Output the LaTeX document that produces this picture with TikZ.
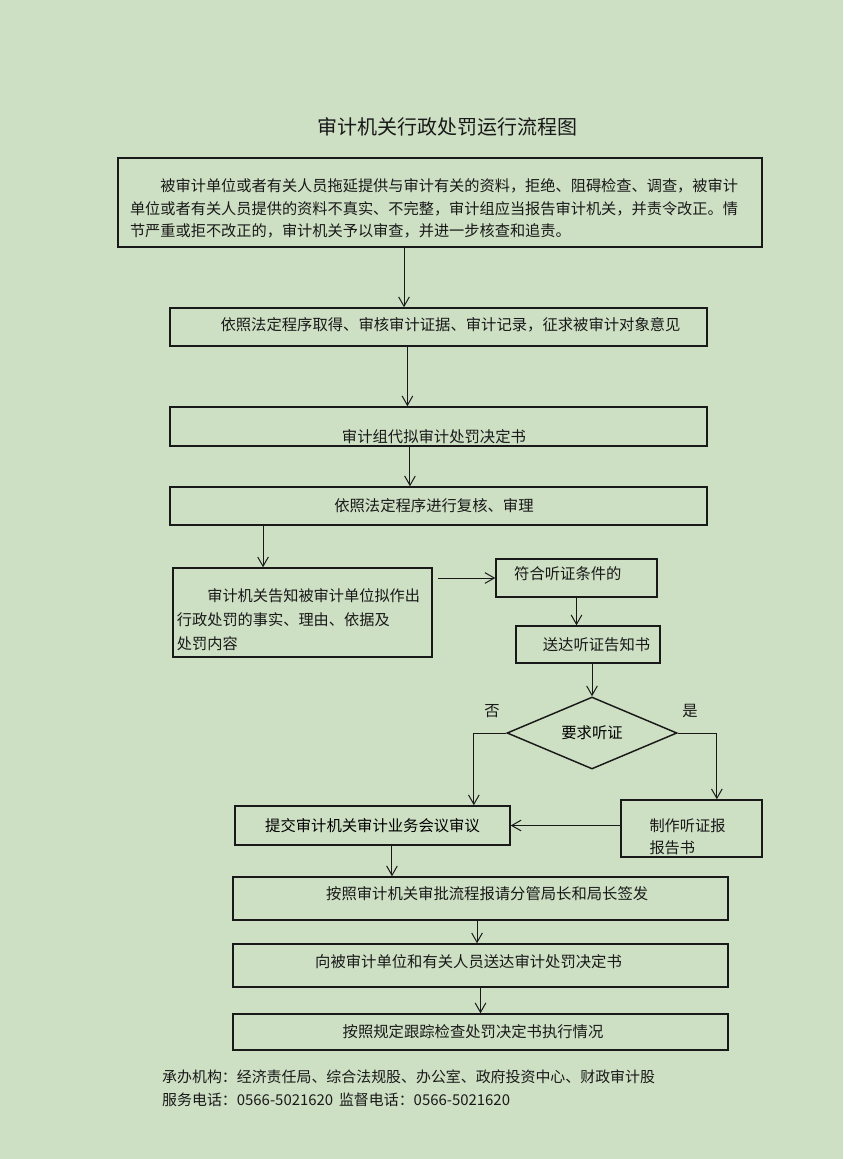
\documentclass[tikz,border=0pt]{standalone}
\usepackage{fontspec}
\newfontfamily\cjk{Noto Sans CJK SC}
\usepackage{tikz}
\usetikzlibrary{arrows.meta,shapes.geometric}
\definecolor{bgGreen}{RGB}{206,224,196}
\definecolor{inkDark}{RGB}{25,25,25}

\begin{document}
\begin{tikzpicture}[
  x=0.75pt, y=-0.75pt,
  box/.style={draw=inkDark, line width=1.1pt, inner sep=0pt, align=center, font=\cjk\fontsize{11.5}{14}\selectfont},
  choice/.style={diamond, draw=inkDark, line width=1.1pt, inner sep=0pt, aspect=2.4, minimum width=127.5pt, minimum height=54pt, font=\cjk\fontsize{11.5}{14}\selectfont},
  lbl/.style={font=\cjk\fontsize{11.5}{14}\selectfont, text=inkDark},
  arr/.style={-{Straight Barb[length=7pt,width=8pt]}, line width=0.75pt, draw=inkDark},
  >=Stealth
]
\fill[bgGreen] (0,0) rectangle (843,1159);

% Title
\node[font=\cjk\fontsize{15}{18}\selectfont, text=inkDark] (title) at (447,127) {审计机关行政处罚运行流程图};

% Main steps
\node[box, minimum width=483pt, minimum height=66.75pt,
  label={[lbl, align=left, font=\cjk\fontsize{11.4}{16.9}\selectfont, xshift=-4.5pt, yshift=-4.5pt]center:%
  \hspace*{2em}被审计单位或者有关人员拖延提供与审计有关的资料，拒绝、阻碍检查、调查，被审计\\
  单位或者有关人员提供的资料不真实、不完整，审计组应当报告审计机关，并责令改正。情\\
  节严重或拒不改正的，审计机关予以审查，并进一步核查和追责。}] (b1) at (440,202.5) {};
\node[box, minimum width=402.75pt, minimum height=28.5pt,
  label={[lbl, xshift=9pt, yshift=1.5pt]center:依照法定程序取得、审核审计证据、审计记录，征求被审计对象意见}] (b2) at (438.5,327) {};
\node[box, minimum width=402.75pt, minimum height=29.25pt,
  label={[lbl, xshift=-3.4pt, yshift=-7.5pt]center:审计组代拟审计处罚决定书}] (b3) at (438.5,426.5) {};
\node[box, minimum width=402.75pt, minimum height=28.5pt,
  label={[lbl, xshift=-3.4pt]center:依照法定程序进行复核、审理}] (b4) at (438.5,506) {};
\node[box, minimum width=194.25pt, minimum height=66.75pt,
  label={[lbl, align=left, font=\cjk\fontsize{11.4}{18}\selectfont, xshift=-3pt, yshift=-5.25pt]center:%
  \hspace*{2em}审计机关告知被审计单位拟作出\\
  行政处罚的事实、理由、依据及\\
  处罚内容}] (b5) at (302.5,612.5) {};

% Hearing branch
\node[box, minimum width=120.75pt, minimum height=28.5pt,
  label={[lbl, xshift=-6.5pt, yshift=3.5pt]center:符合听证条件的}] (b6) at (576.5,578) {};
\node[box, minimum width=108pt, minimum height=27.75pt,
  label={[lbl, xshift=6.4pt]center:送达听证告知书}] (b7) at (588,644.5) {};
\node[choice] (d) at (592,733) {要求听证};
\node[lbl] (no) at (492,711) {否};
\node[lbl] (yes) at (690,711) {是};
\node[box, minimum width=206.25pt, minimum height=29.25pt] (b8) at (372.5,825.5) {提交审计机关审计业务会议审议};
\node[box, minimum width=105.75pt, minimum height=42.75pt,
  label={[lbl, align=left, font=\cjk\fontsize{11.4}{16.5}\selectfont, xshift=-3pt, yshift=-6.5pt]center:%
  制作听证报\\
  报告书}] (b9) at (691.5,828.5) {};

% Final steps
\node[box, minimum width=371.25pt, minimum height=32.25pt,
  label={[lbl, xshift=5pt, yshift=3.75pt]center:按照审计机关审批流程报请分管局长和局长签发}] (b10) at (480.5,898.5) {};
\node[box, minimum width=371.25pt, minimum height=32.25pt,
  label={[lbl, xshift=-9pt, yshift=3pt]center:向被审计单位和有关人员送达审计处罚决定书}] (b11) at (480.5,965.5) {};
\node[box, minimum width=371.25pt, minimum height=27pt,
  label={[lbl, xshift=-5.6pt]center:按照规定跟踪检查处罚决定书执行情况}] (b12) at (480.5,1032) {};

% Footer
\node[lbl, anchor=west, align=left, font=\cjk\fontsize{11.2}{17.2}\selectfont] (foot) at (157.5,1088.5) {%
  承办机构：经济责任局、综合法规股、办公室、政府投资中心、财政审计股\\
  服务电话：0566-5021620 \,监督电话：0566-5021620};

% Arrows
\draw[arr] ([xshift=-27pt]b1.south) -- ([xshift=-27pt]b1.south |- b2.north);
\draw[arr] ([xshift=-23.3pt]b2.south) -- ([xshift=-23.3pt]b2.south |- b3.north);
\draw[arr] ([xshift=-21.4pt]b3.south) -- ([xshift=-21.4pt]b3.south |- b4.north);
\draw[arr] ([xshift=-131.6pt]b4.south) -- ([xshift=-131.6pt]b4.south |- b5.north);
\draw[arr, shorten <=4pt] (b5.east |- b6.west) -- (b6.west);
\draw[arr] (b6.south) -- (b6.south |- b7.north);
\draw[arr] (d.north |- b7.south) -- (d.north);
\draw[arr] (d.west) -| ([xshift=76pt]b8.north);
\draw[arr] (d.east) -| ([xshift=19pt]b9.north);
\draw[arr] (b9.west |- b8.east) -- (b8.east);
\draw[arr] ([xshift=14.6pt]b8.south) -- ([xshift=14.6pt]b8.south |- b10.north);
\draw[arr] ([xshift=-2.6pt]b10.south) -- ([xshift=-2.6pt]b10.south |- b11.north);
\draw[arr] (b11.south) -- (b12.north);

\end{tikzpicture}
\end{document}
